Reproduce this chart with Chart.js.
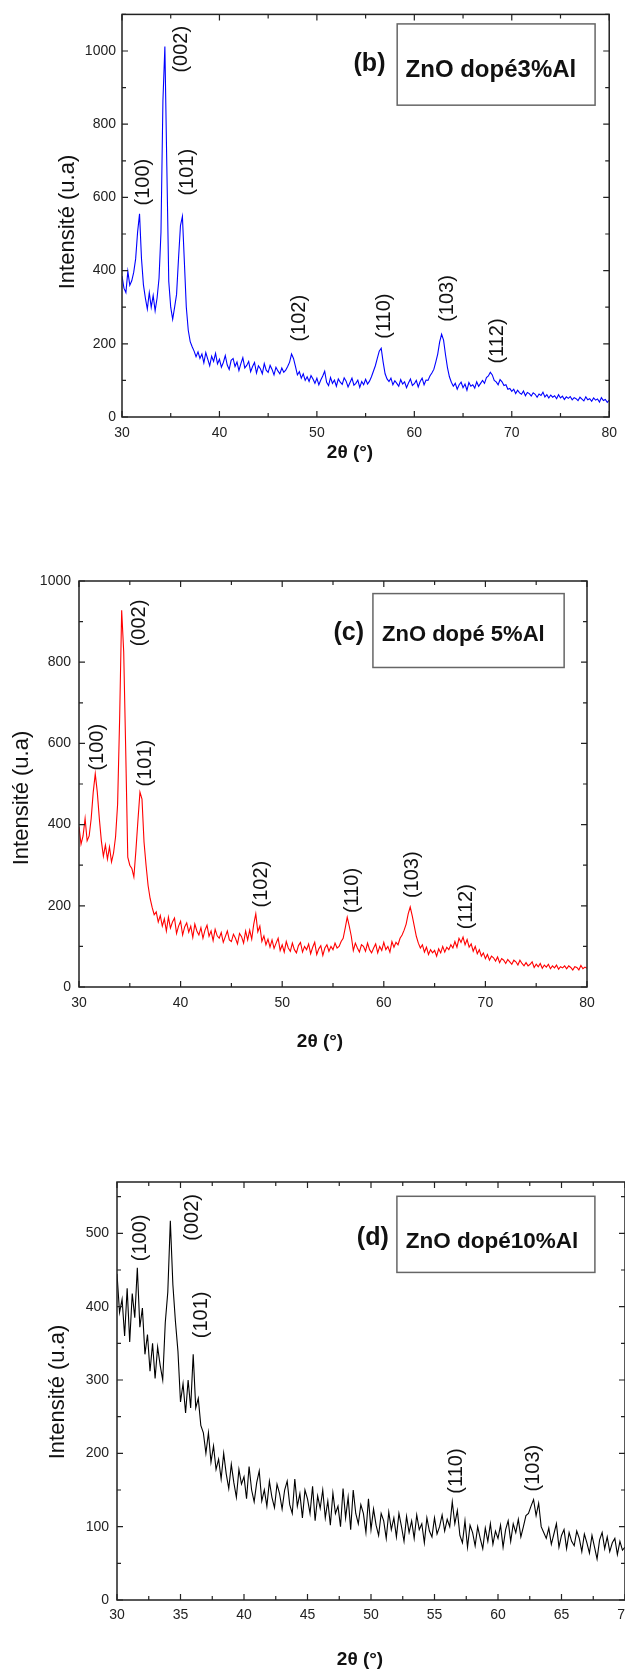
<!DOCTYPE html>
<html>
<head>
<meta charset="utf-8">
<script src="https://cdn.jsdelivr.net/npm/chart.js@4.4.0/dist/chart.umd.min.js"></script>
<style>
  html, body { margin: 0; padding: 0; background: #fff; overflow: hidden; }
  #page { position: relative; width: 625px; height: 1675px; overflow: hidden; }
  canvas { position: absolute; left: 0; }
</style>
</head>
<body>
<div id="page">
  <canvas id="chartB" width="625" height="470" style="top:0"></canvas>
  <canvas id="chartC" width="625" height="500" style="top:560px"></canvas>
  <canvas id="chartD" width="660" height="515" style="top:1160px"></canvas>
</div>
<script>
// 2θ grid: one reading every 0.2°, from 30°. Each row = one degree (n.0 .. n.8)
const thetaStart = 30;
const thetaStep = 0.2;

// (b) ZnO dopé 3% Al
const intensB = [
  385,352,340,398,360,
  372,395,432,505,555,
  433,361,325,295,340,
  300,332,290,325,379,
  505,864,1012,685,370,
  300,267,300,335,433,
  523,548,424,300,237,
  206,192,180,165,178,
  160,172,148,176,158,
  140,166,152,174,145,
  158,136,149,168,142,
  130,155,160,138,150,
  127,146,162,134,141,
  152,124,138,149,120,
  140,132,118,146,128,
  122,141,130,115,136,
  126,118,134,122,128,
  138,150,172,160,138,
  115,124,106,118,100,
  110,97,113,104,92,
  106,88,101,112,125,
  95,86,108,92,101,
  84,104,95,89,107,
  98,82,94,106,87,
  92,101,81,97,88,
  103,90,98,110,125,
  140,160,180,188,150,
  118,104,97,106,88,
  99,92,84,102,90,
  96,80,93,104,86,
  91,100,82,97,106,
  88,101,100,112,120,
  130,150,172,205,226,
  210,170,135,110,95,
  84,92,76,88,95,
  80,90,73,94,84,
  88,79,96,84,92,
  100,92,108,112,122,
  115,100,96,88,102,
  96,86,88,76,78,
  70,76,64,73,66,
  62,71,58,67,64,
  57,66,62,54,63,
  59,68,55,61,52,
  60,54,58,50,61,
  52,57,48,55,51,
  56,47,53,50,45,
  54,49,44,55,47,
  50,43,52,46,49,
  41,53,45,48,40,
  46
];

// (c) ZnO dopé 5% Al
const intensC = [
  395,352,372,415,360,
  372,415,480,525,480,
  415,360,322,350,315,
  345,308,330,370,450,
  662,928,825,580,320,
  300,292,271,336,410,
  480,463,357,300,250,
  218,196,178,185,160,
  176,150,168,138,172,
  145,160,170,132,150,
  162,128,148,158,135,
  150,122,155,138,128,
  146,120,140,152,125,
  138,114,142,126,120,
  134,110,124,138,116,
  112,130,120,106,132,
  124,108,138,116,140,
  118,155,180,136,150,
  112,126,104,118,98,
  116,95,108,120,90,
  104,86,112,96,88,
  108,92,84,102,110,
  86,100,92,106,82,
  98,110,80,94,102,
  78,96,104,88,100,
  92,108,96,100,112,
  120,145,172,150,125,
  90,108,96,86,104,
  100,88,108,92,84,
  96,106,84,100,90,
  110,92,100,86,112,
  98,110,104,120,128,
  140,155,180,197,175,
  150,125,108,96,104,
  86,98,80,92,84,
  90,76,94,84,100,
  86,98,92,104,96,
  112,98,120,110,123,
  104,117,98,106,88,
  100,82,92,76,84,
  70,80,66,76,72,
  64,74,60,70,66,
  58,68,62,56,66,
  62,54,66,58,52,
  60,52,56,62,48,
  56,50,58,46,54,
  49,56,45,52,47,
  54,44,50,47,52,
  45,52,48,42,50,
  48,42,53,45,49,
  46
];

// (d) ZnO dopé 10% Al
const intensD = [
  445,392,410,360,425,
  352,418,385,453,372,
  398,335,362,312,350,
  302,345,320,300,378,
  420,517,430,380,339,
  270,295,255,300,262,
  335,262,275,238,228,
  200,228,188,210,178,
  192,165,200,172,152,
  185,160,140,178,158,
  168,138,182,150,134,
  160,176,135,150,128,
  162,140,126,158,145,
  124,150,162,130,118,
  165,128,145,112,150,
  138,118,155,108,142,
  125,150,112,135,102,
  146,118,128,100,152,
  112,140,96,150,118,
  104,130,118,92,138,
  96,124,102,88,118,
  108,84,120,96,112,
  86,118,100,80,114,
  92,108,84,116,96,
  104,78,112,94,86,
  112,90,100,116,94,
  110,100,134,104,122,
  88,78,108,72,102,
  92,74,100,84,70,
  98,80,104,76,94,
  84,102,72,96,108,
  80,104,92,110,86,
  100,115,118,128,137,
  115,132,100,92,84,
  98,76,90,104,72,
  88,96,70,92,80,
  74,94,84,66,90,
  78,64,88,72,56,
  82,92,70,86,66,
  78,84,62,80,68,
  72
];

// axis ticks
const xTicksBC = [30, 40, 50, 60, 70, 80];
const xMinorBC = [35, 45, 55, 65, 75];
const yTicksB = [0, 200, 400, 600, 800, 1000];
const yMinorB = [100, 300, 500, 700, 900, 1100];
const yTicksC = [0, 200, 400, 600, 800, 1000];
const yMinorC = [100, 300, 500, 700, 900];
const xTicksD = [30, 35, 40, 45, 50, 55, 60, 65, 70];
const xMinorD = [32.5, 37.5, 42.5, 47.5, 52.5, 57.5, 62.5, 67.5];
const yTicksD = [0, 100, 200, 300, 400, 500];
const yMinorD = [50, 150, 250, 350, 450, 550];

// reflections (hkl) and where each label starts, in (2θ, intensity)
const peaksB = ['(100)', '(002)', '(101)', '(102)', '(110)', '(103)', '(112)'];
const peakThetaB = [32.25, 36.09, 36.7, 48.2, 56.9, 63.36, 68.5];
const peakLevelB = [578, 941, 605, 206, 214, 260, 146];
const peaksC = ['(100)', '(002)', '(101)', '(102)', '(110)', '(103)', '(112)'];
const peakThetaC = [31.85, 35.99, 36.58, 48.01, 56.88, 62.79, 68.11];
const peakLevelC = [533, 839, 494, 196, 182, 219, 142];
const peaksD = ['(100)', '(002)', '(101)', '(110)', '(103)'];
const peakThetaD = [31.87, 35.97, 36.68, 56.72, 62.78];
const peakLevelD = [462, 490, 357, 145, 148];

const tickFont = { family: 'Liberation Sans', size: 14 };

function makeDecor(o) {
  return {
    id: 'decor',
    afterDraw(chart) {
      const { ctx, chartArea: a, scales: { x, y } } = chart;
      ctx.save();
      // frame
      ctx.strokeStyle = '#222';
      ctx.lineWidth = 1.5;
      ctx.strokeRect(a.left, a.top, a.right - a.left, a.bottom - a.top);
      // inward ticks on all four sides
      ctx.lineWidth = 1.2;
      ctx.beginPath();
      const xt = (vals, len) => vals.forEach(v => {
        const p = x.getPixelForValue(v);
        ctx.moveTo(p, a.bottom); ctx.lineTo(p, a.bottom - len);
        ctx.moveTo(p, a.top); ctx.lineTo(p, a.top + len);
      });
      const yt = (vals, len) => vals.forEach(v => {
        const p = y.getPixelForValue(v);
        ctx.moveTo(a.left, p); ctx.lineTo(a.left + len, p);
        ctx.moveTo(a.right, p); ctx.lineTo(a.right - len, p);
      });
      xt(o.xTicks, 6); xt(o.xMinor, 4);
      yt(o.yTicks, 6); yt(o.yMinor, 4);
      ctx.stroke();

      // peak labels, rotated
      ctx.fillStyle = '#111';
      ctx.font = '20px "Liberation Sans"';
      ctx.textAlign = 'left';
      ctx.textBaseline = 'middle';
      o.peaks.forEach((t, i) => {
        ctx.save();
        ctx.translate(x.getPixelForValue(o.peakTheta[i]), y.getPixelForValue(o.peakLevel[i]));
        ctx.rotate(-Math.PI / 2);
        ctx.fillText(t, 0, 0);
        ctx.restore();
      });

      // sample box
      const b = o.box;
      const bl = x.getPixelForValue(b.x0), br = x.getPixelForValue(b.x1);
      const bt = y.getPixelForValue(b.y0), bb = y.getPixelForValue(b.y1);
      ctx.strokeStyle = '#666';
      ctx.lineWidth = 1.5;
      ctx.strokeRect(bl, bt, br - bl, bb - bt);
      ctx.fillStyle = '#111';
      ctx.font = 'bold ' + o.sampleSize + 'px "Liberation Sans"';
      ctx.textAlign = 'left';
      ctx.fillText(o.sample, x.getPixelForValue(b.tx), y.getPixelForValue(b.ty));
      ctx.font = 'bold 25px "Liberation Sans"';
      ctx.textAlign = 'center';
      ctx.fillText(o.letter, x.getPixelForValue(b.lx), y.getPixelForValue(b.ly));

      // axis titles
      ctx.font = '22px "Liberation Sans"';
      ctx.save();
      ctx.translate(o.yTitle[0], o.yTitle[1]);
      ctx.rotate(-Math.PI / 2);
      ctx.fillText('Intensité (u.a)', 0, 0);
      ctx.restore();
      ctx.font = 'bold 19px "Liberation Sans"';
      ctx.fillText('2θ (°)', o.xTitle[0], o.xTitle[1]);
      ctx.restore();
    }
  };
}

function panel(id, o) {
  const pts = o.values.map((v, i) => ({ x: thetaStart + i * thetaStep, y: v }));
  return new Chart(document.getElementById(id), {
    type: 'line',
    data: { datasets: [{ data: pts, borderColor: o.color, borderWidth: 1.1, pointRadius: 0, tension: 0 }] },
    options: {
      responsive: false,
      animation: false,
      devicePixelRatio: 1,
      layout: { padding: o.pad },
      plugins: { legend: { display: false }, tooltip: { enabled: false } },
      scales: {
        x: {
          type: 'linear', min: o.xMin, max: o.xMax,
          afterBuildTicks: s => { s.ticks = o.xTicks.map(v => ({ value: v })); },
          afterFit: s => { s.height = o.xAxisH; },
          ticks: { font: tickFont, color: '#222', padding: o.xPad, maxRotation: 0, autoSkip: false, callback: v => String(v) },
          grid: { display: false, drawTicks: false },
          border: { display: false }
        },
        y: {
          min: 0, max: o.yMax,
          afterBuildTicks: s => { s.ticks = o.yTicks.map(v => ({ value: v })); },
          afterFit: s => { s.width = o.yAxisW; },
          ticks: { font: tickFont, color: '#222', padding: o.yPad, autoSkip: false, callback: v => String(v) },
          grid: { display: false, drawTicks: false },
          border: { display: false }
        }
      }
    },
    plugins: [makeDecor(o)]
  });
}

panel('chartB', {
  values: intensB, color: '#0000ff', xMin: 30, xMax: 80, yMax: 1100,
  xTicks: xTicksBC, xMinor: xMinorBC, yTicks: yTicksB, yMinor: yMinorB,
  pad: { left: 0, top: 9, right: 8, bottom: 0 }, yAxisW: 122, xAxisH: 53, xPad: 8, yPad: 6,
  peaks: peaksB, peakTheta: peakThetaB, peakLevel: peakLevelB,
  box: { x0: 58.24, x1: 78.55, y0: 1074, y1: 852, tx: 59.1, ty: 948, lx: 55.4, ly: 963 },
  sample: 'ZnO dopé3%Al', sampleSize: 24, letter: '(b)',
  yTitle: [68, 222], xTitle: [350, 453]
});

panel('chartC', {
  values: intensC, color: '#ff0000', xMin: 30, xMax: 80, yMax: 1000,
  xTicks: xTicksBC, xMinor: xMinorBC, yTicks: yTicksC, yMinor: yMinorC,
  pad: { left: 0, top: 21, right: 38, bottom: 0 }, yAxisW: 79, xAxisH: 73, xPad: 7.5, yPad: 8,
  peaks: peaksC, peakTheta: peakThetaC, peakLevel: peakLevelC,
  box: { x0: 58.93, x1: 77.75, y0: 969, y1: 787, tx: 59.83, ty: 866, lx: 56.55, ly: 871 },
  sample: 'ZnO dopé 5%Al', sampleSize: 22, letter: '(c)',
  yTitle: [22, 238], xTitle: [320, 482]
});

panel('chartD', {
  values: intensD, color: '#000000', xMin: 30, xMax: 70, yMax: 570,
  xTicks: xTicksD, xMinor: xMinorD, yTicks: yTicksD, yMinor: yMinorD,
  pad: { left: 0, top: 22, right: 35, bottom: 0 }, yAxisW: 117, xAxisH: 75, xPad: 7, yPad: 8,
  peaks: peaksD, peakTheta: peakThetaD, peakLevel: peakLevelD,
  box: { x0: 52.04, x1: 67.63, y0: 550.5, y1: 446.7, tx: 52.74, ty: 489, lx: 50.14, ly: 493 },
  sample: 'ZnO dopé10%Al', sampleSize: 22.5, letter: '(d)',
  yTitle: [58, 232], xTitle: [360, 500]
});
</script>
</body>
</html>
